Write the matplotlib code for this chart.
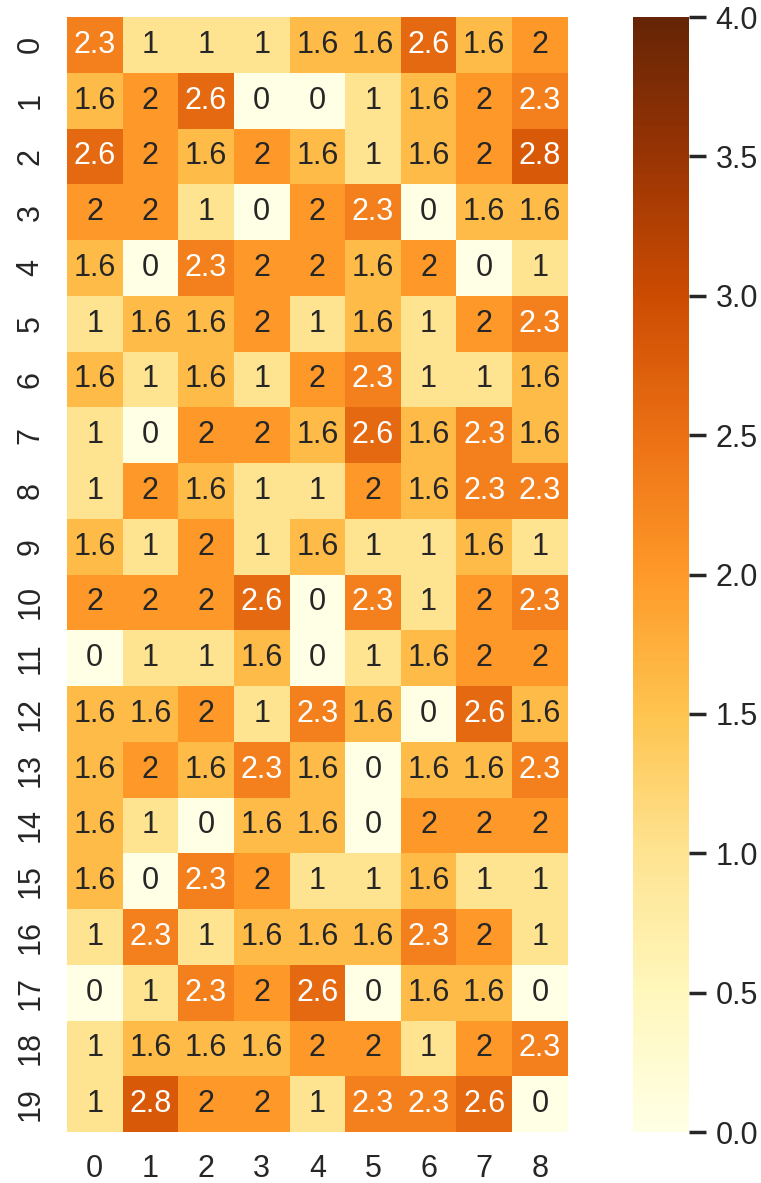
import numpy as np
import matplotlib
matplotlib.use("Agg")
import matplotlib.pyplot as plt
import seaborn as sns

# Cell values, one list per row (rows 0-19, columns 0-8)
row_00 = [2.3, 1, 1, 1, 1.6, 1.6, 2.6, 1.6, 2]
row_01 = [1.6, 2, 2.6, 0, 0, 1, 1.6, 2, 2.3]
row_02 = [2.6, 2, 1.6, 2, 1.6, 1, 1.6, 2, 2.8]
row_03 = [2, 2, 1, 0, 2, 2.3, 0, 1.6, 1.6]
row_04 = [1.6, 0, 2.3, 2, 2, 1.6, 2, 0, 1]
row_05 = [1, 1.6, 1.6, 2, 1, 1.6, 1, 2, 2.3]
row_06 = [1.6, 1, 1.6, 1, 2, 2.3, 1, 1, 1.6]
row_07 = [1, 0, 2, 2, 1.6, 2.6, 1.6, 2.3, 1.6]
row_08 = [1, 2, 1.6, 1, 1, 2, 1.6, 2.3, 2.3]
row_09 = [1.6, 1, 2, 1, 1.6, 1, 1, 1.6, 1]
row_10 = [2, 2, 2, 2.6, 0, 2.3, 1, 2, 2.3]
row_11 = [0, 1, 1, 1.6, 0, 1, 1.6, 2, 2]
row_12 = [1.6, 1.6, 2, 1, 2.3, 1.6, 0, 2.6, 1.6]
row_13 = [1.6, 2, 1.6, 2.3, 1.6, 0, 1.6, 1.6, 2.3]
row_14 = [1.6, 1, 0, 1.6, 1.6, 0, 2, 2, 2]
row_15 = [1.6, 0, 2.3, 2, 1, 1, 1.6, 1, 1]
row_16 = [1, 2.3, 1, 1.6, 1.6, 1.6, 2.3, 2, 1]
row_17 = [0, 1, 2.3, 2, 2.6, 0, 1.6, 1.6, 0]
row_18 = [1, 1.6, 1.6, 1.6, 2, 2, 1, 2, 2.3]
row_19 = [1, 2.8, 2, 2, 1, 2.3, 2.3, 2.6, 0]

rows = [row_00, row_01, row_02, row_03, row_04, row_05, row_06, row_07,
        row_08, row_09, row_10, row_11, row_12, row_13, row_14, row_15,
        row_16, row_17, row_18, row_19]
row_labels = [str(i) for i in range(20)]
col_labels = [str(j) for j in range(9)]
cbar_ticks = [0.0, 0.5, 1.0, 1.5, 2.0, 2.5, 3.0, 3.5, 4.0]

data = np.array(rows, dtype=float)

sns.set_theme(context="poster", style="darkgrid")
plt.rcParams["font.family"] = ["Liberation Sans", "DejaVu Sans"]

fig = plt.figure(figsize=(7.61, 11.83), dpi=100)
ax = fig.add_axes([0.088, 0.0431, 0.658, 0.9425])
cax = fig.add_axes([0.832, 0.0431, 0.0736, 0.9425])

sns.heatmap(data, ax=ax, cbar_ax=cax, cmap="YlOrBr", vmin=0, vmax=4,
            annot=True, fmt=".2g", xticklabels=col_labels,
            yticklabels=row_labels, annot_kws={"fontsize": 22})

cax.set_yticks(cbar_ticks)
cax.set_yticklabels([f"{t:.1f}" for t in cbar_ticks])
cax.tick_params(labelsize=22, pad=7, length=12, width=2.5)
ax.tick_params(labelsize=22)
ax.set_yticklabels(row_labels, rotation=90, va="center")

fig.savefig("out.png", dpi=100)
